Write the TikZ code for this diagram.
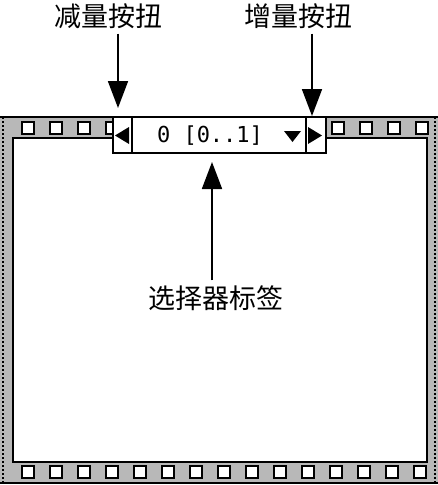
\documentclass[tikz,border=0pt]{standalone}
\usepackage{fontspec}
\newfontfamily\cjk{Noto Sans CJK SC}
\newfontfamily\monofnt{DejaVu Sans Mono}
\usetikzlibrary{arrows.meta,positioning}
\definecolor{bandgray}{RGB}{184,184,184}
\tikzset{
  hole/.style={draw=black,line width=2pt,fill=white},
  button/.style={draw=black,fill=white,line width=1.6pt,inner sep=0pt,minimum height=36pt},
  callout/.style={font=\cjk\fontsize{27}{27}\selectfont,inner sep=0pt},
  pointer/.style={line width=1.8pt,shorten <=5pt,-{Triangle[width=20pt,length=27pt]}},
  rim/.style={line width=2.5pt,dash pattern=on 2pt off 2pt},
}
\begin{document}
\begin{tikzpicture}[x=1pt,y=-1pt]
\useasboundingbox (0,0) rectangle (438,485);
% film frame
\fill[bandgray] (0,117) rectangle (438,483);
\draw[line width=2pt,fill=white] (13,138) rectangle (427,462);
\draw[line width=2pt] (0,117) -- (438,117);
\draw[line width=2pt] (0,483) -- (438,483);
\draw[rim] (3,117) -- (3,483);
\draw[rim] (435,117) -- (435,483);
\foreach \x in {22,50,78,106,332,360,388,416}
  \draw[hole] (\x,122) rectangle ++(12,12);
\foreach \k in {0,...,14}
  \draw[hole] (22+28*\k,466) rectangle ++(12,12);
% ring selector
\node[button,minimum width=19pt] (dec) at (122.5,135) {};
\node[button,minimum width=174pt] (ring) at (219,135) {};
\node[button,minimum width=20pt] (inc) at (316,135) {};
\node[font=\monofnt\fontsize{22}{22}\selectfont,inner sep=0pt] (val) at (210,136) {0 [0..1]};
\fill (129,127) -- (129,144) -- (115,135.5) -- cycle;
\fill (308,127) -- (308,144) -- (322,135.5) -- cycle;
\fill (284,131) -- (301,131) -- (292.5,142) -- cycle;
% labels
\node[callout] (declbl) at (108,16) {减量按扭};
\node[callout] (inclbl) at (298,16) {增量按扭};
\node[callout] (sellbl) at (216,298) {选择器标签};
\coordinate (dectip) at (118,108);
\coordinate (inctip) at (312,116);
\coordinate (seltip) at (212,162);
\draw[pointer] (declbl.south -| dectip) -- (dectip);
\draw[pointer] (inclbl.south -| inctip) -- (inctip);
\draw[pointer] (sellbl.north -| seltip) -- (seltip);
\end{tikzpicture}
\end{document}
